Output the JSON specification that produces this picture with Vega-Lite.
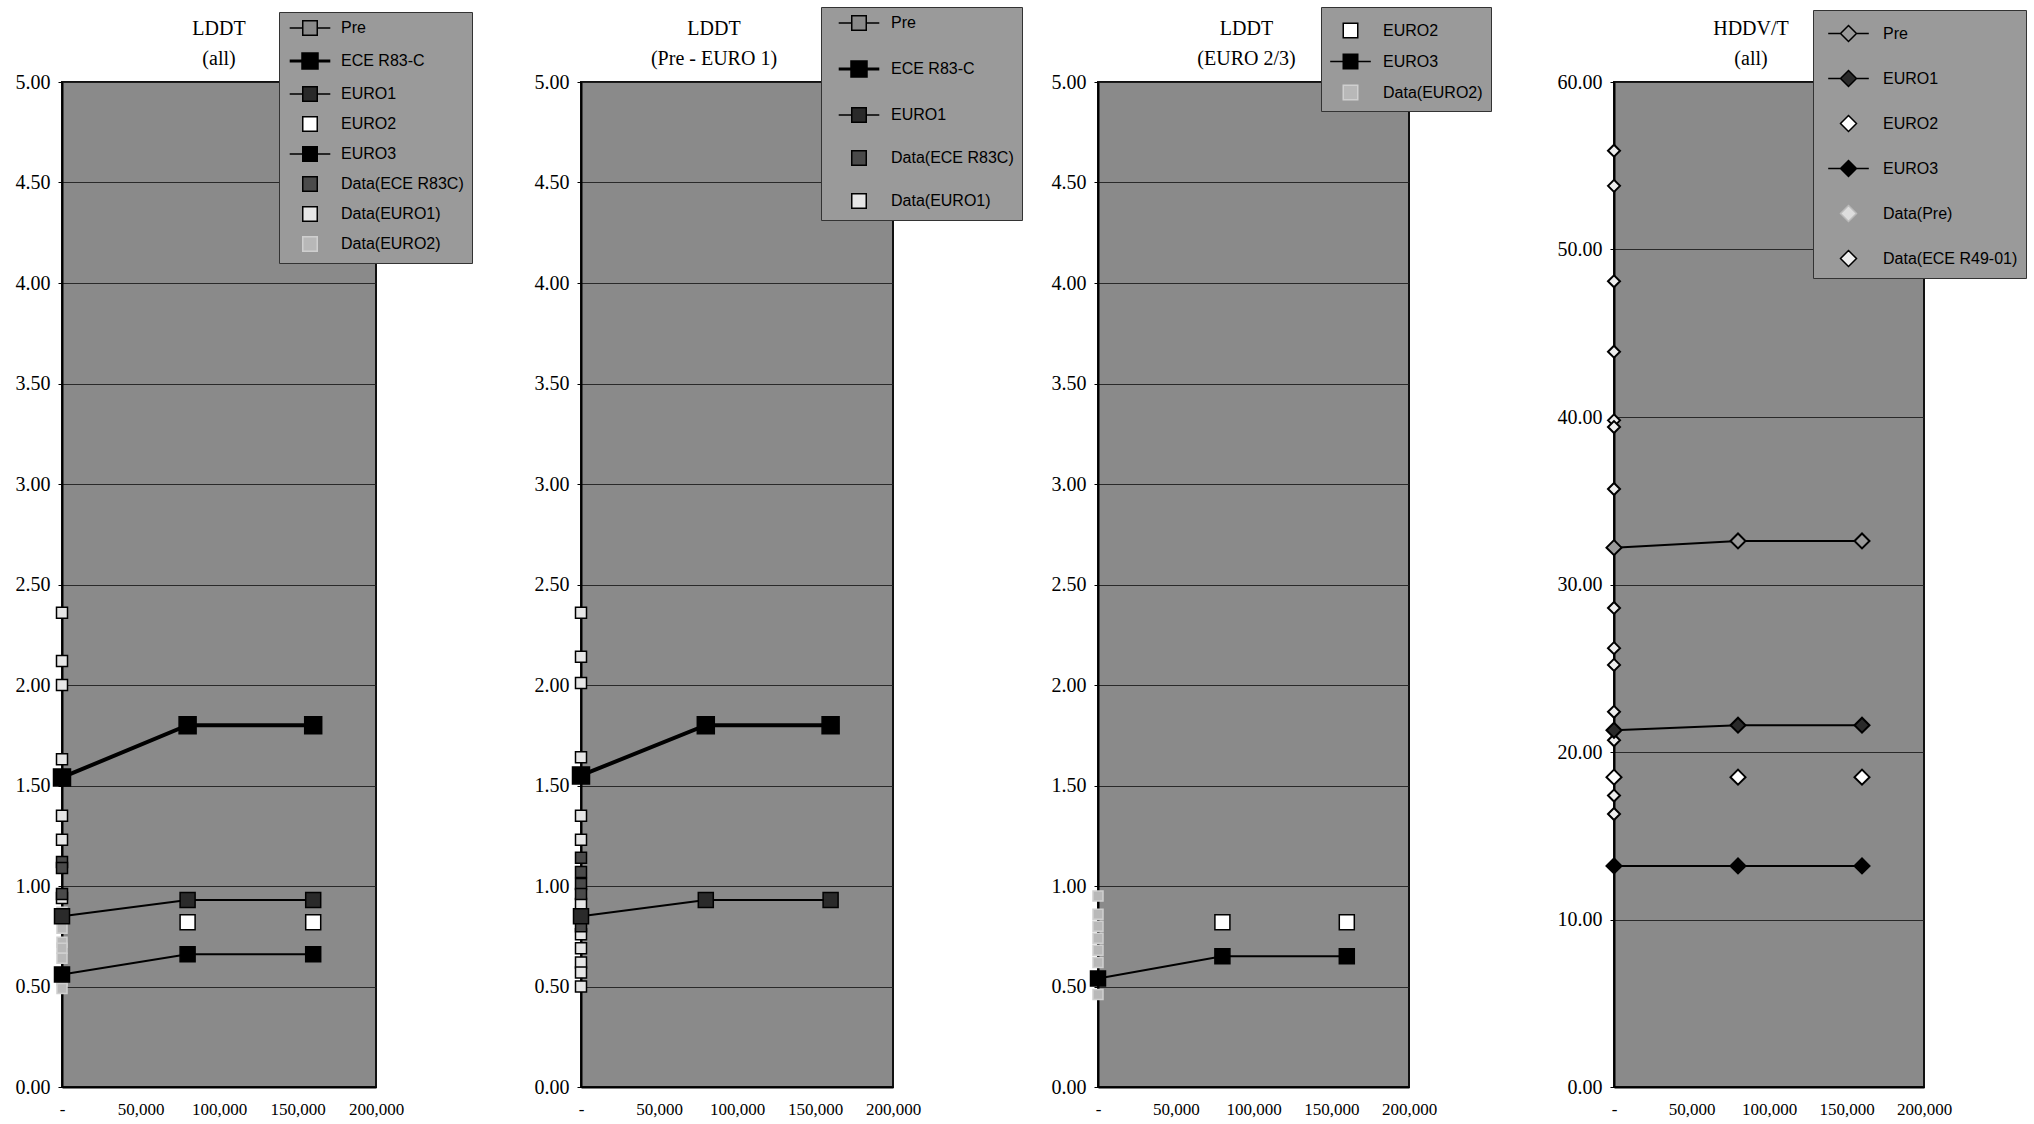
{
  "$schema": "https://vega.github.io/schema/vega-lite/v6.json",
  "background": "white",
  "padding": 5,
  "bounds": "flush",
  "spacing": 205,
  "datasets": {
    "p1": [
      {"s": "Data(EURO1)", "km": 0, "v": 2.36}, {"s": "Data(EURO1)", "km": 0, "v": 2.12}, {"s": "Data(EURO1)", "km": 0, "v": 2.0},
      {"s": "Data(EURO1)", "km": 0, "v": 1.63}, {"s": "Data(EURO1)", "km": 0, "v": 1.35}, {"s": "Data(EURO1)", "km": 0, "v": 1.23},
      {"s": "Data(EURO1)", "km": 0, "v": 0.94},
      {"s": "Data(ECE R83C)", "km": 0, "v": 1.12}, {"s": "Data(ECE R83C)", "km": 0, "v": 1.09}, {"s": "Data(ECE R83C)", "km": 0, "v": 0.96},
      {"s": "Data(EURO2)", "km": 0, "v": 0.87}, {"s": "Data(EURO2)", "km": 0, "v": 0.79}, {"s": "Data(EURO2)", "km": 0, "v": 0.72},
      {"s": "Data(EURO2)", "km": 0, "v": 0.69}, {"s": "Data(EURO2)", "km": 0, "v": 0.64}, {"s": "Data(EURO2)", "km": 0, "v": 0.53},
      {"s": "Data(EURO2)", "km": 0, "v": 0.49},
      {"s": "EURO2", "km": 80000, "v": 0.82}, {"s": "EURO2", "km": 160000, "v": 0.82},
      {"s": "EURO3", "km": 0, "v": 0.56}, {"s": "EURO3", "km": 80000, "v": 0.66}, {"s": "EURO3", "km": 160000, "v": 0.66},
      {"s": "EURO1", "km": 0, "v": 0.85}, {"s": "EURO1", "km": 80000, "v": 0.93}, {"s": "EURO1", "km": 160000, "v": 0.93},
      {"s": "ECE R83-C", "km": 0, "v": 1.54}, {"s": "ECE R83-C", "km": 80000, "v": 1.8}, {"s": "ECE R83-C", "km": 160000, "v": 1.8}
    ],
    "p2": [
      {"s": "Data(EURO1)", "km": 0, "v": 2.36}, {"s": "Data(EURO1)", "km": 0, "v": 2.14}, {"s": "Data(EURO1)", "km": 0, "v": 2.01},
      {"s": "Data(EURO1)", "km": 0, "v": 1.64}, {"s": "Data(EURO1)", "km": 0, "v": 1.35}, {"s": "Data(EURO1)", "km": 0, "v": 1.23},
      {"s": "Data(EURO1)", "km": 0, "v": 0.91}, {"s": "Data(EURO1)", "km": 0, "v": 0.76}, {"s": "Data(EURO1)", "km": 0, "v": 0.69},
      {"s": "Data(EURO1)", "km": 0, "v": 0.62}, {"s": "Data(EURO1)", "km": 0, "v": 0.57}, {"s": "Data(EURO1)", "km": 0, "v": 0.5},
      {"s": "Data(ECE R83C)", "km": 0, "v": 1.14}, {"s": "Data(ECE R83C)", "km": 0, "v": 1.07}, {"s": "Data(ECE R83C)", "km": 0, "v": 1.01},
      {"s": "Data(ECE R83C)", "km": 0, "v": 0.96}, {"s": "Data(ECE R83C)", "km": 0, "v": 0.8},
      {"s": "EURO1", "km": 0, "v": 0.85}, {"s": "EURO1", "km": 80000, "v": 0.93}, {"s": "EURO1", "km": 160000, "v": 0.93},
      {"s": "ECE R83-C", "km": 0, "v": 1.55}, {"s": "ECE R83-C", "km": 80000, "v": 1.8}, {"s": "ECE R83-C", "km": 160000, "v": 1.8}
    ],
    "p3": [
      {"s": "Data(EURO2)", "km": 0, "v": 0.95}, {"s": "Data(EURO2)", "km": 0, "v": 0.86}, {"s": "Data(EURO2)", "km": 0, "v": 0.8},
      {"s": "Data(EURO2)", "km": 0, "v": 0.74}, {"s": "Data(EURO2)", "km": 0, "v": 0.68}, {"s": "Data(EURO2)", "km": 0, "v": 0.62},
      {"s": "Data(EURO2)", "km": 0, "v": 0.46},
      {"s": "EURO2", "km": 80000, "v": 0.82}, {"s": "EURO2", "km": 160000, "v": 0.82},
      {"s": "EURO3", "km": 0, "v": 0.54}, {"s": "EURO3", "km": 80000, "v": 0.65}, {"s": "EURO3", "km": 160000, "v": 0.65}
    ],
    "p4": [
      {"s": "Data(ECE R49-01)", "km": 0, "v": 55.9}, {"s": "Data(ECE R49-01)", "km": 0, "v": 53.8}, {"s": "Data(ECE R49-01)", "km": 0, "v": 48.1},
      {"s": "Data(ECE R49-01)", "km": 0, "v": 43.9}, {"s": "Data(ECE R49-01)", "km": 0, "v": 39.8}, {"s": "Data(ECE R49-01)", "km": 0, "v": 39.4},
      {"s": "Data(ECE R49-01)", "km": 0, "v": 35.7}, {"s": "Data(ECE R49-01)", "km": 0, "v": 28.6}, {"s": "Data(ECE R49-01)", "km": 0, "v": 26.2},
      {"s": "Data(ECE R49-01)", "km": 0, "v": 25.2}, {"s": "Data(ECE R49-01)", "km": 0, "v": 22.4}, {"s": "Data(ECE R49-01)", "km": 0, "v": 20.7},
      {"s": "Data(ECE R49-01)", "km": 0, "v": 17.4}, {"s": "Data(ECE R49-01)", "km": 0, "v": 16.3},
      {"s": "EURO2", "km": 0, "v": 18.5}, {"s": "EURO2", "km": 80000, "v": 18.5}, {"s": "EURO2", "km": 160000, "v": 18.5},
      {"s": "EURO3", "km": 0, "v": 13.2}, {"s": "EURO3", "km": 80000, "v": 13.2}, {"s": "EURO3", "km": 160000, "v": 13.2},
      {"s": "EURO1", "km": 0, "v": 21.3}, {"s": "EURO1", "km": 80000, "v": 21.6}, {"s": "EURO1", "km": 160000, "v": 21.6},
      {"s": "Pre", "km": 0, "v": 32.2}, {"s": "Pre", "km": 80000, "v": 32.6}, {"s": "Pre", "km": 160000, "v": 32.6}
    ]
  },
  "resolve": {
    "scale": {"x": "independent", "y": "independent", "fill": "independent"},
    "legend": {"fill": "independent"}
  },
  "hconcat": [
    {
      "width": 314, "height": 1005,
      "data": {"name": "p1"},
      "title": {"text": ["LDDT", "(all)"], "dx": 0, "offset": -57},
      "layer": [
        {
          "transform": [{"filter": {"field": "s", "oneOf": ["ECE R83-C", "EURO1", "EURO3"]}}],
          "mark": {"type": "line", "color": "black"},
          "encoding": {
            "x": {"field": "km", "type": "quantitative", "scale": {"domain": [0, 200000]}, "axis": {"values": [0, 50000, 100000, 150000, 200000], "labelExpr": "datum.value == 0 ? '-' : format(datum.value, ',')"}},
            "y": {"field": "v", "type": "quantitative", "scale": {"domain": [0, 5]}, "axis": {"values": [0, 0.5, 1, 1.5, 2, 2.5, 3, 3.5, 4, 4.5, 5], "format": ".2f"}},
            "detail": {"field": "s"},
            "strokeWidth": {"condition": {"test": "datum.s == 'ECE R83-C'", "value": 4}, "value": 2}
          }
        },
        {
          "mark": {"type": "point", "shape": "square", "filled": true, "opacity": 1, "strokeWidth": 1.5},
          "encoding": {
            "x": {"field": "km", "type": "quantitative"},
            "y": {"field": "v", "type": "quantitative"},
            "size": {"condition": [{"test": "datum.s == 'ECE R83-C'", "value": 289}, {"test": "indexof(['EURO1','EURO2','EURO3'], datum.s) >= 0", "value": 225}, {"test": "datum.s == 'Data(EURO2)'", "value": 100}], "value": 121},
            "stroke": {"condition": {"test": "datum.s == 'Data(EURO2)'", "value": "#cfcfcf"}, "value": "#000000"},
            "fill": {
              "field": "s", "type": "nominal",
              "scale": {"domain": ["Pre", "ECE R83-C", "EURO1", "EURO2", "EURO3", "Data(ECE R83C)", "Data(EURO1)", "Data(EURO2)"], "range": ["#8a8a8a", "#000000", "#2a2a2a", "#ffffff", "#000000", "#4a4a4a", "#e6e6e6", "#b8b8b8"]},
              "legend": {
                "orient": "none", "legendX": 217, "legendY": -70, "rowPadding": 8, "symbolOffset": 15, "labelOffset": 23,
                "symbolType": {"expr": "indexof(['Pre','ECE R83-C','EURO1','EURO3'], datum.value) >= 0 ? 'M-1.4,0H-0.5M0.5,0H1.4M-0.5,-0.5H0.5V0.5H-0.5Z' : 'M-0.5,-0.5H0.5V0.5H-0.5Z'"},
                "symbolStrokeColor": {"expr": "datum.value == 'Data(EURO2)' ? '#cfcfcf' : '#000000'"},
                "symbolStrokeWidth": {"expr": "datum.value == 'ECE R83-C' ? 3 : 1.5"}
              }
            }
          }
        }
      ]
    },
    {
      "width": 312, "height": 1005,
      "data": {"name": "p2"},
      "title": {"text": ["LDDT", "(Pre - EURO 1)"], "dx": -23, "offset": -62},
      "layer": [
        {
          "transform": [{"filter": {"field": "s", "oneOf": ["ECE R83-C", "EURO1"]}}],
          "mark": {"type": "line", "color": "black"},
          "encoding": {
            "x": {"field": "km", "type": "quantitative", "scale": {"domain": [0, 200000]}, "axis": {"values": [0, 50000, 100000, 150000, 200000], "labelExpr": "datum.value == 0 ? '-' : format(datum.value, ',')"}},
            "y": {"field": "v", "type": "quantitative", "scale": {"domain": [0, 5]}, "axis": {"values": [0, 0.5, 1, 1.5, 2, 2.5, 3, 3.5, 4, 4.5, 5], "format": ".2f"}},
            "detail": {"field": "s"},
            "strokeWidth": {"condition": {"test": "datum.s == 'ECE R83-C'", "value": 4}, "value": 2}
          }
        },
        {
          "mark": {"type": "point", "shape": "square", "filled": true, "opacity": 1, "strokeWidth": 1.5, "stroke": "#000000"},
          "encoding": {
            "x": {"field": "km", "type": "quantitative"},
            "y": {"field": "v", "type": "quantitative"},
            "size": {"condition": [{"test": "datum.s == 'ECE R83-C'", "value": 289}, {"test": "datum.s == 'EURO1'", "value": 225}], "value": 121},
            "fill": {
              "field": "s", "type": "nominal",
              "scale": {"domain": ["Pre", "ECE R83-C", "EURO1", "Data(ECE R83C)", "Data(EURO1)"], "range": ["#8a8a8a", "#000000", "#2a2a2a", "#4a4a4a", "#e6e6e6"]},
              "legend": {
                "orient": "none", "legendX": 240, "legendY": -75, "rowPadding": 21, "symbolOffset": 22, "labelOffset": 24,
                "symbolType": {"expr": "indexof(['Pre','ECE R83-C','EURO1'], datum.value) >= 0 ? 'M-1.4,0H-0.5M0.5,0H1.4M-0.5,-0.5H0.5V0.5H-0.5Z' : 'M-0.5,-0.5H0.5V0.5H-0.5Z'"},
                "symbolStrokeWidth": {"expr": "datum.value == 'ECE R83-C' ? 3 : 1.5"}
              }
            }
          }
        }
      ]
    },
    {
      "width": 311, "height": 1005,
      "data": {"name": "p3"},
      "title": {"text": ["LDDT", "(EURO 2/3)"], "dx": -7, "offset": -62},
      "layer": [
        {
          "transform": [{"filter": {"field": "s", "oneOf": ["EURO3"]}}],
          "mark": {"type": "line", "color": "black", "strokeWidth": 2},
          "encoding": {
            "x": {"field": "km", "type": "quantitative", "scale": {"domain": [0, 200000]}, "axis": {"values": [0, 50000, 100000, 150000, 200000], "labelExpr": "datum.value == 0 ? '-' : format(datum.value, ',')"}},
            "y": {"field": "v", "type": "quantitative", "scale": {"domain": [0, 5]}, "axis": {"values": [0, 0.5, 1, 1.5, 2, 2.5, 3, 3.5, 4, 4.5, 5], "format": ".2f"}},
            "detail": {"field": "s"}
          }
        },
        {
          "mark": {"type": "point", "shape": "square", "filled": true, "opacity": 1, "strokeWidth": 1.5},
          "encoding": {
            "x": {"field": "km", "type": "quantitative"},
            "y": {"field": "v", "type": "quantitative"},
            "size": {"condition": {"test": "datum.s == 'Data(EURO2)'", "value": 100}, "value": 225},
            "stroke": {"condition": {"test": "datum.s == 'Data(EURO2)'", "value": "#cfcfcf"}, "value": "#000000"},
            "fill": {
              "field": "s", "type": "nominal",
              "scale": {"domain": ["EURO2", "EURO3", "Data(EURO2)"], "range": ["#ffffff", "#000000", "#b8b8b8"]},
              "legend": {
                "orient": "none", "legendX": 223, "legendY": -75, "rowPadding": 5, "symbolOffset": 6, "labelOffset": 17,
                "symbolType": {"expr": "datum.value == 'EURO3' ? 'M-1.4,0H-0.5M0.5,0H1.4M-0.5,-0.5H0.5V0.5H-0.5Z' : 'M-0.5,-0.5H0.5V0.5H-0.5Z'"},
                "symbolStrokeColor": {"expr": "datum.value == 'Data(EURO2)' ? '#cfcfcf' : '#000000'"}
              }
            }
          }
        }
      ]
    },
    {
      "width": 310, "height": 1005,
      "data": {"name": "p4"},
      "title": {"text": ["HDDV/T", "(all)"], "dx": -18, "offset": -59},
      "layer": [
        {
          "transform": [{"filter": {"field": "s", "oneOf": ["Pre", "EURO1", "EURO3"]}}],
          "mark": {"type": "line", "color": "black", "strokeWidth": 2},
          "encoding": {
            "x": {"field": "km", "type": "quantitative", "scale": {"domain": [0, 200000]}, "axis": {"values": [0, 50000, 100000, 150000, 200000], "labelExpr": "datum.value == 0 ? '-' : format(datum.value, ',')"}},
            "y": {"field": "v", "type": "quantitative", "scale": {"domain": [0, 60]}, "axis": {"values": [0, 10, 20, 30, 40, 50, 60], "format": ".2f"}},
            "detail": {"field": "s"}
          }
        },
        {
          "mark": {"type": "point", "shape": "diamond", "filled": true, "opacity": 1, "strokeWidth": 2, "stroke": "#000000"},
          "encoding": {
            "x": {"field": "km", "type": "quantitative"},
            "y": {"field": "v", "type": "quantitative"},
            "size": {"condition": {"test": "indexof(['Pre','EURO1','EURO2','EURO3'], datum.s) >= 0", "value": 225}, "value": 144},
            "fill": {
              "field": "s", "type": "nominal",
              "scale": {"domain": ["Pre", "EURO1", "EURO2", "EURO3", "Data(Pre)", "Data(ECE R49-01)"], "range": ["#9a9a9a", "#2a2a2a", "#ffffff", "#000000", "#dddddd", "#eeeeee"]},
              "legend": {
                "orient": "none", "legendX": 199, "legendY": -72, "rowPadding": 18, "symbolOffset": 12, "labelOffset": 19,
                "symbolType": {"expr": "indexof(['Pre','EURO1','EURO3'], datum.value) >= 0 ? 'M-1.4,0H-0.55M0.55,0H1.4M0,-0.55L0.55,0L0,0.55L-0.55,0Z' : 'M0,-0.55L0.55,0L0,0.55L-0.55,0Z'"},
                "symbolStrokeColor": {"expr": "datum.value == 'Data(Pre)' ? '#bbbbbb' : '#000000'"}
              }
            }
          }
        }
      ]
    }
  ],
  "config": {
    "view": {"fill": "#8a8a8a", "stroke": "#111111", "strokeWidth": 2},
    "title": {"font": "Liberation Serif", "fontSize": 20, "fontWeight": "normal", "color": "#000000", "lineHeight": 30, "anchor": "middle", "frame": "group"},
    "axis": {"title": null, "labelColor": "#000000", "domainColor": "#000000", "domainWidth": 2, "labelFlush": false, "labelOverlap": false},
    "axisX": {"grid": false, "ticks": false, "labelFont": "Liberation Serif", "labelFontSize": 17, "labelPadding": 14},
    "axisY": {"grid": true, "gridColor": "#1e1e1e", "gridWidth": 1, "gridOpacity": 0.9, "ticks": true, "tickSize": 4, "tickColor": "#000000", "labelFont": "Liberation Serif", "labelFontSize": 20, "labelPadding": 8, "minExtent": 56, "maxExtent": 56},
    "legend": {"title": null, "labelFont": "Liberation Sans", "labelFontSize": 16, "labelColor": "#000000", "fillColor": "#9a9a9a", "strokeColor": "#333333", "padding": 8, "symbolSize": 841, "symbolStrokeWidth": 1.5, "symbolStrokeColor": "#000000", "labelLimit": 200}
  }
}
